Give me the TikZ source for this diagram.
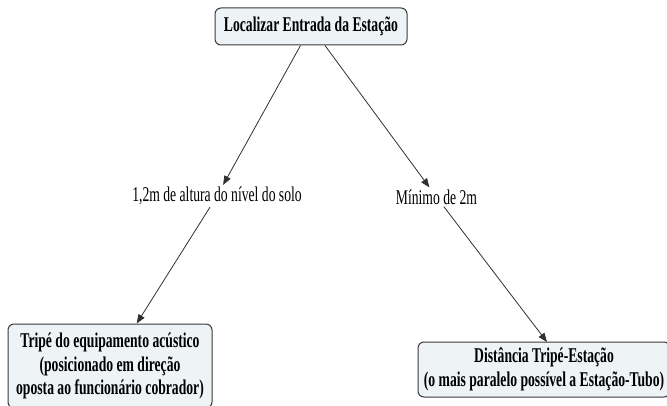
\documentclass[tikz,border=0pt]{standalone}
\usepackage{fontspec}
\setmainfont{Liberation Serif}[FakeStretch=0.65]
\usetikzlibrary{arrows.meta}
\definecolor{boxfill}{HTML}{EEF3F5}
\definecolor{boxline}{HTML}{3A3A3A}
\definecolor{arrowcol}{HTML}{303030}
\tikzset{
 concept/.style={draw=boxline, fill=boxfill, line width=1pt, rounded corners=6pt, font=\fontsize{21}{23.5}\selectfont\bfseries, align=center, inner sep=0pt},
 linkphrase/.style={font=\fontsize{21}{23}\selectfont, inner sep=2pt},
 link/.style={draw=arrowcol, line width=0.8pt, -{Triangle[length=9pt,width=7pt]}},
}
\begin{document}
\begin{tikzpicture}[x=1pt,y=-1pt]
\useasboundingbox (0,0) rectangle (667,406);
\clip (0,0) rectangle (667,406);
\node[concept, minimum width=192pt, minimum height=37pt] (top) at (311,26.5) {Localizar Entrada da Estação};
\node[linkphrase] (l1) at (217,196) {1,2m de altura do nível do solo};
\node[linkphrase] (l2) at (436.5,197) {Mínimo de 2m};
\node[concept, minimum width=204pt, minimum height=84pt] (left) at (110,366) {Tripé do equipamento acústico\\(posicionado em direção\\oposta ao funcionário cobrador)};
\node[concept, minimum width=252pt, minimum height=55pt] (right) at (544,369.5) {Distância Tripé-Estação\\(o mais paralelo possível a Estação-Tubo)};
\coordinate (rt) at (547,342);
\draw[link] (top) -- (l1);
\draw[link] (top) -- (l2);
\draw[link] (l1) -- (left);
\draw[link] (l2) -- (rt);
\end{tikzpicture}
\end{document}
